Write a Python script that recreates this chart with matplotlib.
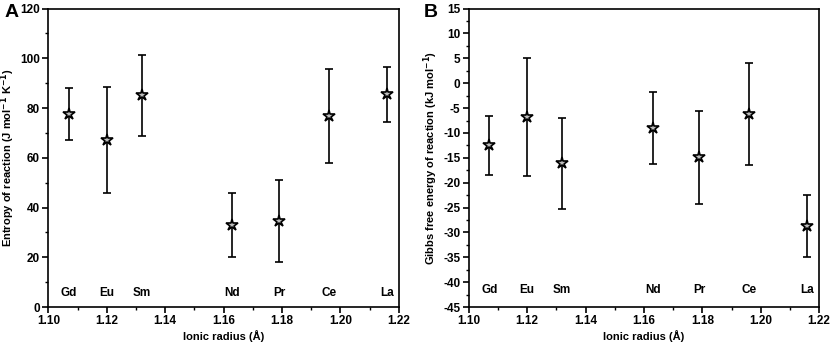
import matplotlib
matplotlib.use("Agg")
import matplotlib.pyplot as plt
from matplotlib.ticker import MultipleLocator

# ionic radii (A) and element labels
elements = ['Gd', 'Eu', 'Sm', 'Nd', 'Pr', 'Ce', 'La']
radius = [1.107, 1.120, 1.132, 1.163, 1.179, 1.196, 1.216]

# panel A: entropy of reaction
entropy = [77.5, 67.0, 85.2, 33.0, 34.5, 76.8, 85.5]
entropy_err = [10.5, 21.3, 16.3, 12.8, 16.5, 18.8, 11.0]

# panel B: Gibbs free energy of reaction
gibbs = [-12.5, -6.8, -16.1, -9.0, -14.9, -6.2, -28.7]
gibbs_err = [5.9, 11.8, 9.1, 7.2, 9.4, 10.3, 6.3]

plt.rcParams['font.family'] = ['Liberation Sans', 'DejaVu Sans']
plt.rcParams['font.weight'] = 'bold'
plt.rcParams['axes.labelweight'] = 'bold'
plt.rcParams['font.size'] = 8.5
plt.rcParams['axes.unicode_minus'] = False
plt.rcParams['mathtext.default'] = 'bf'

fig, (ax1, ax2) = plt.subplots(1, 2, figsize=(8.35, 3.45), dpi=100)
fig.subplots_adjust(left=0.058, right=0.981, top=0.975, bottom=0.11, wspace=0.20)


def draw(ax, y, yerr, ylim, major, minor, label_y, ylabel, letter):
    ax.errorbar(radius, y, yerr=yerr, fmt='none', ecolor='black',
                elinewidth=1.2, capsize=3, capthick=1.2, zorder=2)
    ax.plot(radius, y, linestyle='none', marker='*', markersize=9,
            markerfacecolor='#bdbdbd', markeredgecolor='black',
            markeredgewidth=1.2, zorder=3)
    for xe, name in zip(radius, elements):
        ax.text(xe, label_y, name, ha='center', va='center',
                fontsize=8.5, fontweight='bold')
    ax.set_xlim(1.10, 1.22)
    ax.set_ylim(*ylim)
    ax.xaxis.set_major_locator(MultipleLocator(0.02))
    ax.xaxis.set_minor_locator(MultipleLocator(0.01))
    ax.yaxis.set_major_locator(MultipleLocator(major))
    ax.yaxis.set_minor_locator(MultipleLocator(minor))
    ax.xaxis.set_major_formatter(matplotlib.ticker.FormatStrFormatter('%.2f'))
    ax.tick_params(which='major', direction='out', length=4, width=1.2,
                   top=False, right=False, pad=2)
    ax.tick_params(which='minor', direction='out', length=2.5, width=1.0,
                   top=False, right=False)
    for s in ax.spines.values():
        s.set_linewidth(1.2)
    ax.set_xlabel('Ionic radius (Å)', labelpad=2, fontsize=8)
    ax.set_ylabel(ylabel, labelpad=2, fontsize=8)


draw(ax1, entropy, entropy_err, (0, 120), 20, 10, 5.8,
     'Entropy of reaction (J mol$^{-1}$ K$^{-1}$)', 'A')
draw(ax2, gibbs, gibbs_err, (-45, 15), 5, 2.5, -41.5,
     'Gibbs free energy of reaction (kJ mol$^{-1}$)', 'B')

fig.text(0.006, 0.965, 'A', fontsize=14, fontweight='bold', ha='left', va='center')
fig.text(0.508, 0.965, 'B', fontsize=14, fontweight='bold', ha='left', va='center')

plt.savefig('out.png', dpi=100)
